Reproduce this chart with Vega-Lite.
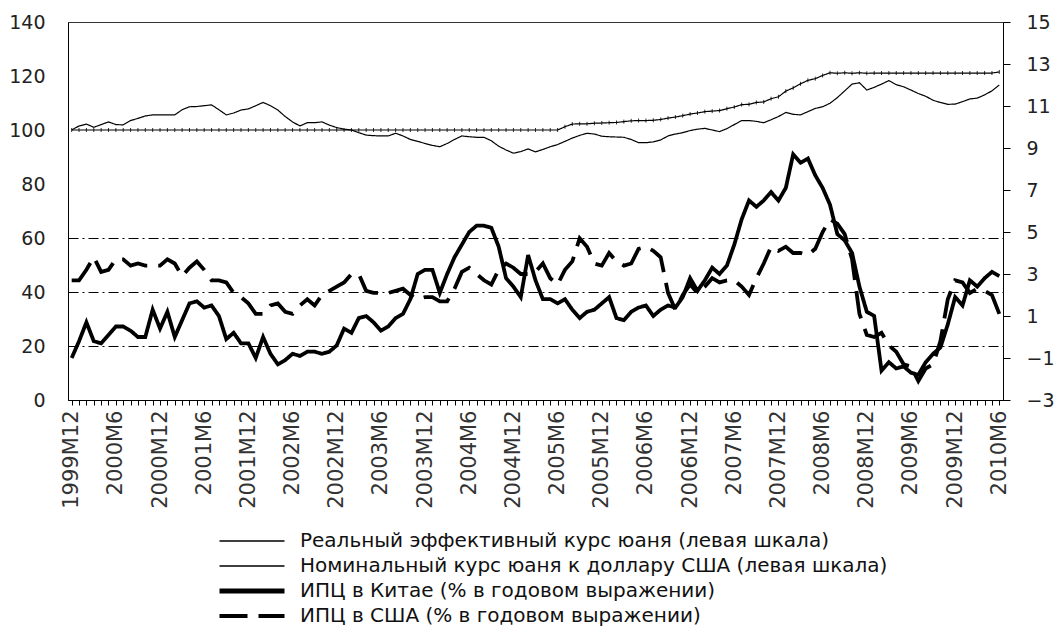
{
  "$schema": "https://vega.github.io/schema/vega-lite/v6.json",
  "width": 935,
  "height": 378,
  "autosize": {"type": "none"},
  "padding": {"left": 68, "top": 22, "right": 54, "bottom": 236},
  "background": "white",
  "config": {"view": {"stroke": "#333", "strokeWidth": 1}, "font": "DejaVu Sans"},
  "data": {"values": [
{"m":"1999M12","a":100,"b":100,"c":-1.0,"d":2.7},
{"m":"2000M1","a":101.5,"b":100,"c":-0.2,"d":2.7},
{"m":"2000M2","a":102.2,"b":100,"c":0.7,"d":3.2},
{"m":"2000M3","a":101,"b":100,"c":-0.2,"d":3.8},
{"m":"2000M4","a":102,"b":100,"c":-0.3,"d":3.1},
{"m":"2000M5","a":103,"b":100,"c":0.1,"d":3.2},
{"m":"2000M6","a":102,"b":100,"c":0.5,"d":3.7},
{"m":"2000M7","a":101.9,"b":100,"c":0.5,"d":3.7},
{"m":"2000M8","a":103.5,"b":100,"c":0.3,"d":3.4},
{"m":"2000M9","a":104.3,"b":100,"c":0.0,"d":3.5},
{"m":"2000M10","a":105.2,"b":100,"c":0.0,"d":3.4},
{"m":"2000M11","a":105.6,"b":100,"c":1.3,"d":3.4},
{"m":"2000M12","a":105.6,"b":100,"c":0.4,"d":3.4},
{"m":"2001M1","a":105.6,"b":100,"c":1.2,"d":3.7},
{"m":"2001M2","a":105.6,"b":100,"c":0.0,"d":3.5},
{"m":"2001M3","a":107.5,"b":100,"c":0.8,"d":2.9},
{"m":"2001M4","a":108.6,"b":100,"c":1.6,"d":3.3},
{"m":"2001M5","a":108.7,"b":100,"c":1.7,"d":3.6},
{"m":"2001M6","a":109,"b":100,"c":1.4,"d":3.2},
{"m":"2001M7","a":109.3,"b":100,"c":1.5,"d":2.7},
{"m":"2001M8","a":107.5,"b":100,"c":1.0,"d":2.7},
{"m":"2001M9","a":105.6,"b":100,"c":-0.1,"d":2.6},
{"m":"2001M10","a":106.3,"b":100,"c":0.2,"d":2.1},
{"m":"2001M11","a":107.4,"b":100,"c":-0.3,"d":1.9},
{"m":"2001M12","a":107.8,"b":100,"c":-0.3,"d":1.6},
{"m":"2002M1","a":109,"b":100,"c":-1.0,"d":1.1},
{"m":"2002M2","a":110.2,"b":100,"c":0.0,"d":1.1},
{"m":"2002M3","a":109,"b":100,"c":-0.8,"d":1.5},
{"m":"2002M4","a":107.4,"b":100,"c":-1.3,"d":1.6},
{"m":"2002M5","a":105,"b":100,"c":-1.1,"d":1.2},
{"m":"2002M6","a":103,"b":100,"c":-0.8,"d":1.1},
{"m":"2002M7","a":101.5,"b":100,"c":-0.9,"d":1.5},
{"m":"2002M8","a":102.7,"b":100,"c":-0.7,"d":1.8},
{"m":"2002M9","a":102.7,"b":100,"c":-0.7,"d":1.5},
{"m":"2002M10","a":103,"b":100,"c":-0.8,"d":2.0},
{"m":"2002M11","a":101.8,"b":100,"c":-0.7,"d":2.2},
{"m":"2002M12","a":100.9,"b":100,"c":-0.4,"d":2.4},
{"m":"2003M1","a":100.3,"b":100,"c":0.4,"d":2.6},
{"m":"2003M2","a":100,"b":100,"c":0.2,"d":3.0},
{"m":"2003M3","a":99,"b":100,"c":0.9,"d":3.0},
{"m":"2003M4","a":98.1,"b":100,"c":1.0,"d":2.2},
{"m":"2003M5","a":97.9,"b":100,"c":0.7,"d":2.1},
{"m":"2003M6","a":97.8,"b":100,"c":0.3,"d":2.1},
{"m":"2003M7","a":97.8,"b":100,"c":0.5,"d":2.1},
{"m":"2003M8","a":98.8,"b":100,"c":0.9,"d":2.2},
{"m":"2003M9","a":97.8,"b":100,"c":1.1,"d":2.3},
{"m":"2003M10","a":96.5,"b":100,"c":1.8,"d":2.0},
{"m":"2003M11","a":95.8,"b":100,"c":3.0,"d":1.8},
{"m":"2003M12","a":95,"b":100,"c":3.2,"d":1.9},
{"m":"2004M1","a":94.3,"b":100,"c":3.2,"d":1.9},
{"m":"2004M2","a":93.8,"b":100,"c":2.1,"d":1.7},
{"m":"2004M3","a":95,"b":100,"c":3.0,"d":1.7},
{"m":"2004M4","a":96.5,"b":100,"c":3.8,"d":2.3},
{"m":"2004M5","a":97.8,"b":100,"c":4.4,"d":3.1},
{"m":"2004M6","a":97.5,"b":100,"c":5.0,"d":3.3},
{"m":"2004M7","a":97.3,"b":100,"c":5.3,"d":3.0},
{"m":"2004M8","a":97.3,"b":100,"c":5.3,"d":2.7},
{"m":"2004M9","a":96,"b":100,"c":5.2,"d":2.5},
{"m":"2004M10","a":94,"b":100,"c":4.3,"d":3.2},
{"m":"2004M11","a":92.6,"b":100,"c":2.8,"d":3.5},
{"m":"2004M12","a":91.4,"b":100,"c":2.4,"d":3.3},
{"m":"2005M1","a":92,"b":100,"c":1.9,"d":3.0},
{"m":"2005M2","a":93,"b":100,"c":3.9,"d":3.0},
{"m":"2005M3","a":91.9,"b":100,"c":2.7,"d":3.1},
{"m":"2005M4","a":92.8,"b":100,"c":1.8,"d":3.5},
{"m":"2005M5","a":93.8,"b":100,"c":1.8,"d":2.8},
{"m":"2005M6","a":94.6,"b":100,"c":1.6,"d":2.5},
{"m":"2005M7","a":95.8,"b":101.2,"c":1.8,"d":3.2},
{"m":"2005M8","a":97,"b":102.2,"c":1.3,"d":3.6},
{"m":"2005M9","a":98,"b":102.3,"c":0.9,"d":4.7},
{"m":"2005M10","a":98.8,"b":102.3,"c":1.2,"d":4.3},
{"m":"2005M11","a":98.5,"b":102.5,"c":1.3,"d":3.5},
{"m":"2005M12","a":97.7,"b":102.6,"c":1.6,"d":3.4},
{"m":"2006M1","a":97.5,"b":102.7,"c":1.9,"d":4.0},
{"m":"2006M2","a":97.4,"b":102.8,"c":0.9,"d":3.6},
{"m":"2006M3","a":97.3,"b":103.1,"c":0.8,"d":3.4},
{"m":"2006M4","a":96.5,"b":103.4,"c":1.2,"d":3.5},
{"m":"2006M5","a":95.3,"b":103.5,"c":1.4,"d":4.2},
{"m":"2006M6","a":95.3,"b":103.5,"c":1.5,"d":4.3},
{"m":"2006M7","a":95.6,"b":103.6,"c":1.0,"d":4.1},
{"m":"2006M8","a":96.3,"b":103.9,"c":1.3,"d":3.8},
{"m":"2006M9","a":97.8,"b":104.4,"c":1.5,"d":2.1},
{"m":"2006M10","a":98.5,"b":104.8,"c":1.4,"d":1.3},
{"m":"2006M11","a":99,"b":105.3,"c":1.9,"d":2.0},
{"m":"2006M12","a":99.8,"b":105.9,"c":2.8,"d":2.5},
{"m":"2007M1","a":100.3,"b":106.3,"c":2.2,"d":2.1},
{"m":"2007M2","a":100.6,"b":106.8,"c":2.7,"d":2.4},
{"m":"2007M3","a":100,"b":107.0,"c":3.3,"d":2.8},
{"m":"2007M4","a":99.4,"b":107.2,"c":3.0,"d":2.6},
{"m":"2007M5","a":100.5,"b":107.9,"c":3.4,"d":2.7},
{"m":"2007M6","a":102,"b":108.5,"c":4.4,"d":2.7},
{"m":"2007M7","a":103.5,"b":109.4,"c":5.6,"d":2.4},
{"m":"2007M8","a":103.5,"b":109.5,"c":6.5,"d":2.0},
{"m":"2007M9","a":103.2,"b":110.2,"c":6.2,"d":2.8},
{"m":"2007M10","a":102.7,"b":110.4,"c":6.5,"d":3.5},
{"m":"2007M11","a":103.8,"b":111.6,"c":6.9,"d":4.3},
{"m":"2007M12","a":105,"b":112.3,"c":6.5,"d":4.1},
{"m":"2008M1","a":106.5,"b":114.4,"c":7.1,"d":4.3},
{"m":"2008M2","a":105.8,"b":115.6,"c":8.7,"d":4.0},
{"m":"2008M3","a":105.6,"b":117.1,"c":8.3,"d":4.0},
{"m":"2008M4","a":106.8,"b":118.4,"c":8.5,"d":3.9},
{"m":"2008M5","a":108,"b":119.0,"c":7.7,"d":4.2},
{"m":"2008M6","a":108.6,"b":120.2,"c":7.1,"d":5.0},
{"m":"2008M7","a":109.9,"b":121.2,"c":6.3,"d":5.6},
{"m":"2008M8","a":112,"b":121.0,"c":4.9,"d":5.4},
{"m":"2008M9","a":114.5,"b":121.2,"c":4.6,"d":4.9},
{"m":"2008M10","a":117,"b":121.0,"c":4.0,"d":3.7},
{"m":"2008M11","a":117.5,"b":121.2,"c":2.4,"d":1.1},
{"m":"2008M12","a":114.8,"b":121.0,"c":1.2,"d":0.1},
{"m":"2009M1","a":115.8,"b":121.1,"c":1.0,"d":0.0},
{"m":"2009M2","a":117,"b":121.1,"c":-1.6,"d":0.2},
{"m":"2009M3","a":118.3,"b":121.1,"c":-1.2,"d":-0.4},
{"m":"2009M4","a":116.8,"b":121.1,"c":-1.5,"d":-0.7},
{"m":"2009M5","a":116,"b":121.1,"c":-1.4,"d":-1.3},
{"m":"2009M6","a":114.8,"b":121.1,"c":-1.7,"d":-1.4},
{"m":"2009M7","a":113.5,"b":121.1,"c":-1.8,"d":-2.1},
{"m":"2009M8","a":112.5,"b":121.1,"c":-1.2,"d":-1.5},
{"m":"2009M9","a":111,"b":121.1,"c":-0.8,"d":-1.3},
{"m":"2009M10","a":110.2,"b":121.1,"c":-0.5,"d":-0.2},
{"m":"2009M11","a":109.5,"b":121.1,"c":0.6,"d":1.8},
{"m":"2009M12","a":109.6,"b":121.1,"c":1.9,"d":2.7},
{"m":"2010M1","a":110.5,"b":121.1,"c":1.5,"d":2.6},
{"m":"2010M2","a":111.5,"b":121.1,"c":2.7,"d":2.1},
{"m":"2010M3","a":111.8,"b":121.1,"c":2.4,"d":2.3},
{"m":"2010M4","a":113,"b":121.1,"c":2.8,"d":2.2},
{"m":"2010M5","a":114.5,"b":121.1,"c":3.1,"d":2.0},
{"m":"2010M6","a":116.7,"b":121.5,"c":2.9,"d":1.1}
  ]},
  "encoding": {
    "x": {
      "field": "m", "type": "ordinal", "sort": null, "title": null,
      "scale": {"type": "point", "padding": 0.5},
      "axis": {
        "labelAngle": -90,
        "labelExpr": "test(regexp('M(6|12)$'), datum.value) ? datum.value : ''",
        "labelOverlap": false,
        "labelFont": "DejaVu Sans",
        "labelFontSize": 21,
        "labelColor": "#333",
        "labelPadding": 5,
        "tickSize": 5,
        "tickColor": "#000",
        "domainColor": "#000",
        "grid": false
      }
    }
  },
  "layer": [
    {
      "transform": [{"fold": ["a", "b"], "as": ["s", "v"]}],
      "encoding": {
        "y": {
          "field": "v", "type": "quantitative", "title": null,
          "scale": {"domain": [0, 140], "nice": false, "zero": false},
          "axis": {
            "orient": "left",
            "values": [0, 20, 40, 60, 80, 100, 120, 140],
            "labelFont": "DejaVu Sans",
            "labelFontSize": 19,
            "labelColor": "#222",
            "ticks": false,
            "labelPadding": 23,
            "domainColor": "#000",
            "grid": true,
            "gridColor": "#000",
            "gridWidth": 1,
            "gridDash": [10, 4, 2, 4],
            "gridOpacity": {"condition": {"test": "datum.value == 20 || datum.value == 40 || datum.value == 60", "value": 1}, "value": 0}
          }
        }
      },
      "layer": [
        {
          "mark": {"type": "line", "strokeWidth": 1.2},
          "encoding": {
            "color": {"field": "s", "type": "nominal", "scale": {"domain": ["a", "b", "c", "d"], "range": ["#000", "#000", "#000", "#000"]},
              "legend": {
                "orient": "none", "legendX": 174, "legendY": 509, "direction": "vertical", "title": null, "padding": 0,
                "symbolType": "M-6.5,0H6.5", "symbolSize": 100, "symbolStrokeColor": "#000",
                "labelFont": "DejaVu Sans", "labelFontSize": 20, "labelColor": "#111", "labelLimit": 900,
                "rowPadding": 5, "labelOffset": 38,
                "labelExpr": "datum.value == 'a' ? 'Реальный эффективный курс юаня (левая шкала)' : datum.value == 'b' ? 'Номинальный курс юаня к доллару США (левая шкала)' : datum.value == 'c' ? 'ИПЦ в Китае (% в годовом выражении)' : 'ИПЦ в США (% в годовом выражении)'",
                "encode": {"symbols": {"update": {
                  "strokeWidth": {"signal": "datum.value == 'c' ? 5 : datum.value == 'd' ? 4 : 1.3"},
                  "strokeDash": {"signal": "datum.value == 'd' ? [30, 12] : [1, 0]"}
                }}}
              }},
            "strokeDash": {"field": "s", "type": "nominal", "scale": {"domain": ["a", "b", "c", "d"], "range": [[1, 0], [1, 0], [1, 0], [28, 11]]}, "legend": null}
          }
        },
        {
          "transform": [{"filter": "datum.s == 'b'"}],
          "mark": {"type": "point", "shape": "M0,-1L0,1", "size": 16, "filled": false, "stroke": "#000", "strokeWidth": 1, "opacity": 0.8}
        }
      ]
    },
    {
      "transform": [{"fold": ["c", "d"], "as": ["s", "v"]}],
      "mark": {"type": "line", "strokeWidth": 3.8},
      "encoding": {
        "y": {
          "field": "v", "type": "quantitative", "title": null,
          "scale": {"domain": [-3, 15], "nice": false, "zero": false},
          "axis": {
            "orient": "right",
            "values": [-3, -1, 1, 3, 5, 7, 9, 11, 13, 15],
            "labelFont": "DejaVu Sans",
            "labelFontSize": 19,
            "labelColor": "#222",
            "tickSize": 7,
            "tickColor": "#000",
            "labelPadding": 16,
            "domainColor": "#000",
            "grid": false
          }
        },
        "color": {"field": "s", "type": "nominal"},
        "strokeDash": {"field": "s", "type": "nominal", "legend": null}
      }
    }
  ],
  "resolve": {"scale": {"y": "independent"}}
}
